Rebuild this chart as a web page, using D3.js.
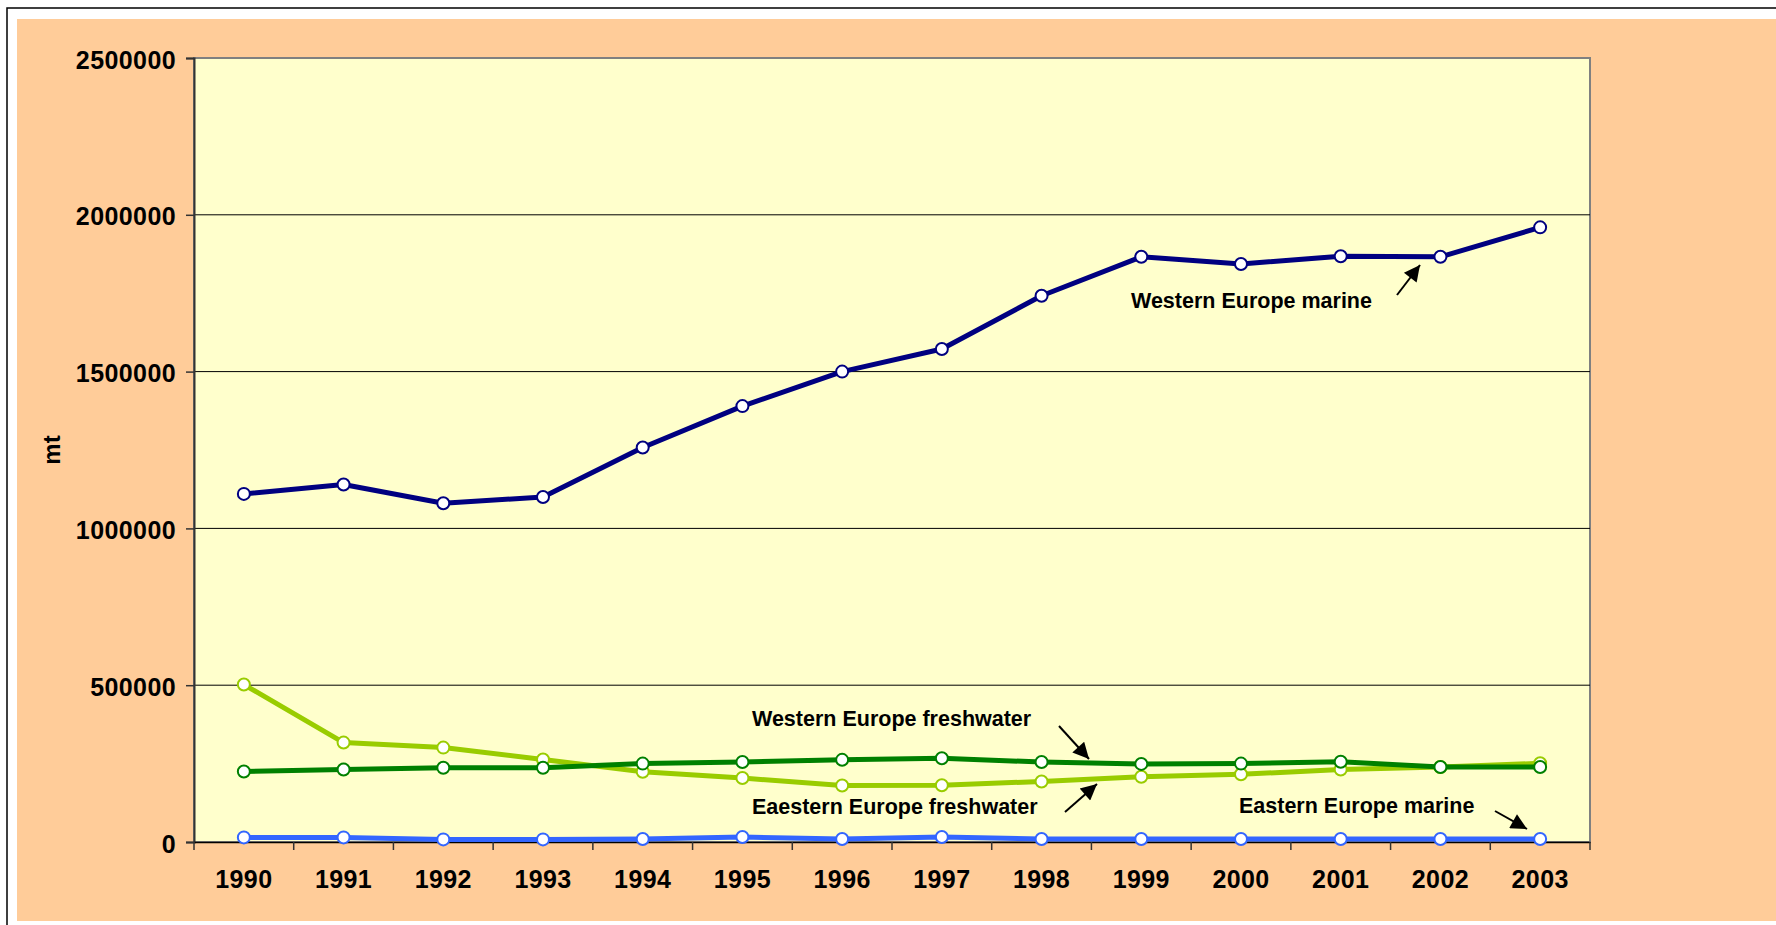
<!DOCTYPE html>
<html>
<head>
<meta charset="utf-8">
<script src="https://cdn.jsdelivr.net/npm/d3@7"></script>
<style>
  body { margin: 0; background: #fff; }
  svg { display: block; font-family: "Liberation Sans", Arial, sans-serif; }
</style>
</head>
<body>
<svg id="chart" width="1776" height="925"></svg>
<script>
var years = ["1990","1991","1992","1993","1994","1995","1996","1997","1998","1999","2000","2001","2002","2003"];
var westernMarine = [1110000,1140000,1080000,1100000,1258000,1390000,1500000,1572000,1742000,1866000,1843000,1868000,1866000,1960000];
var westernFresh = [225000,231000,237000,237000,250000,255000,262000,267000,255000,249000,250000,256000,239000,239000];
var easternFresh = [502000,317000,301000,263000,224000,204000,180000,181000,193000,208000,216000,231000,239000,251000];
var easternMarine = [14700,14700,8300,8300,9500,15900,9500,15900,9500,9500,9500,9500,9500,9500];
var yTicks = [0,500000,1000000,1500000,2000000,2500000];

var series = [
  {id: "Western Europe marine", values: westernMarine, color: "#000080"},
  {id: "Eaestern Europe freshwater", values: easternFresh, color: "#99CC00"},
  {id: "Western Europe freshwater", values: westernFresh, color: "#008000"},
  {id: "Eastern Europe marine", values: easternMarine, color: "#3366FF"}
];

// text labels with arrows (label position, arrow tail -> tip)
var notes = [
  {text: "Western Europe marine", x: 1131, y: 308, x1: 1397, y1: 295, x2: 1420, y2: 265},
  {text: "Western Europe freshwater", x: 752, y: 726, x1: 1059, y1: 726, x2: 1089, y2: 759},
  {text: "Eaestern Europe freshwater", x: 752, y: 814, x1: 1065, y1: 812, x2: 1097, y2: 784},
  {text: "Eastern Europe marine", x: 1239, y: 813, x1: 1495, y1: 811, x2: 1527, y2: 829}
];

var svg = d3.select("#chart"),
    margin = {top: 58, left: 194, right: 186, bottom: 83},
    width = 1776 - margin.left - margin.right,
    height = 925 - margin.top - margin.bottom;

// page background + frame
svg.append("rect").attr("x", 7).attr("y", 8).attr("width", 1800).attr("height", 1000)
    .attr("fill", "#fff").attr("stroke", "#000").attr("stroke-width", 1.5);
svg.append("rect").attr("x", 17).attr("y", 19).attr("width", 1759).attr("height", 902)
    .attr("fill", "#FFCC99");

var defs = svg.append("defs");
defs.append("marker")
    .attr("id", "arrow")
    .attr("viewBox", "0 0 10 10")
    .attr("refX", 10).attr("refY", 5)
    .attr("markerWidth", 9).attr("markerHeight", 8)
    .attr("markerUnits", "strokeWidth")
    .attr("orient", "auto")
  .append("path")
    .attr("d", "M0,0L10,5L0,10Z")
    .attr("fill", "#000");

var g = svg.append("g").attr("transform", "translate(" + margin.left + "," + margin.top + ")");

var x = d3.scaleBand().domain(years).range([0, width]);
var y = d3.scaleLinear().domain([0, 2500000]).range([height, 0]);

g.append("rect").attr("width", width).attr("height", height)
    .attr("fill", "#FFFFCC").attr("stroke", "#808080").attr("stroke-width", 2);

// gridlines
g.selectAll(".grid").data(yTicks.slice(1, -1)).enter().append("line")
    .attr("x1", 0).attr("x2", width)
    .attr("y1", function(d) { return y(d); }).attr("y2", function(d) { return y(d); })
    .attr("stroke", "#000").attr("stroke-width", 1);

// y axis
var yAxis = d3.axisLeft(y).tickValues(yTicks).tickSize(8).tickPadding(10).tickFormat(d3.format("d"));
var ya = g.append("g").call(yAxis);
ya.select(".domain").attr("stroke", "#333").attr("stroke-width", 2);
ya.selectAll(".tick line").attr("stroke", "#333").attr("stroke-width", 1.5);
ya.selectAll(".tick text").attr("font-size", 25).attr("font-weight", "bold").attr("fill", "#000")
    .attr("letter-spacing", 0.4).attr("dy", "0.4em");

// x axis
var xa = g.append("g").attr("transform", "translate(0," + height + ")")
    .call(d3.axisBottom(x).tickSize(0).tickPadding(28));
xa.select(".domain").attr("stroke", "#000").attr("stroke-width", 1.5);
xa.selectAll(".tick text").attr("font-size", 25).attr("font-weight", "bold").attr("fill", "#000")
    .attr("letter-spacing", 0.4);
xa.selectAll(".sep").data(d3.range(years.length + 1)).enter().append("line")
    .attr("x1", function(i) { return i * x.bandwidth(); })
    .attr("x2", function(i) { return i * x.bandwidth(); })
    .attr("y1", 0).attr("y2", 8)
    .attr("stroke", "#333").attr("stroke-width", 1.5);

// y title
g.append("text")
    .attr("transform", "translate(" + (60 - margin.left) + "," + (height / 2) + ") rotate(-90)")
    .attr("text-anchor", "middle")
    .attr("font-size", 24).attr("font-weight", "bold")
    .text("mt");

var line = d3.line()
    .x(function(d, i) { return x(years[i]) + x.bandwidth() / 2; })
    .y(function(d) { return y(d); });

var s = g.selectAll(".series").data(series).enter().append("g");

s.append("path")
    .attr("d", function(d) { return line(d.values); })
    .attr("fill", "none")
    .attr("stroke", function(d) { return d.color; })
    .attr("stroke-width", 5)
    .attr("stroke-linejoin", "round");

s.selectAll("circle")
    .data(function(d) { return d.values.map(function(v, i) { return {v: v, i: i, color: d.color}; }); })
    .enter().append("circle")
    .attr("cx", function(d) { return x(years[d.i]) + x.bandwidth() / 2; })
    .attr("cy", function(d) { return y(d.v); })
    .attr("r", 6)
    .attr("fill", "#fff")
    .attr("stroke", function(d) { return d.color; })
    .attr("stroke-width", 2);

// annotations
var n = svg.selectAll(".note").data(notes).enter().append("g");
n.append("text")
    .attr("x", function(d) { return d.x; })
    .attr("y", function(d) { return d.y; })
    .attr("font-size", 21.5).attr("font-weight", "bold")
    .text(function(d) { return d.text; });
n.append("line")
    .attr("x1", function(d) { return d.x1; }).attr("y1", function(d) { return d.y1; })
    .attr("x2", function(d) { return d.x2; }).attr("y2", function(d) { return d.y2; })
    .attr("stroke", "#000").attr("stroke-width", 2)
    .attr("marker-end", "url(#arrow)");
</script>
</body>
</html>
